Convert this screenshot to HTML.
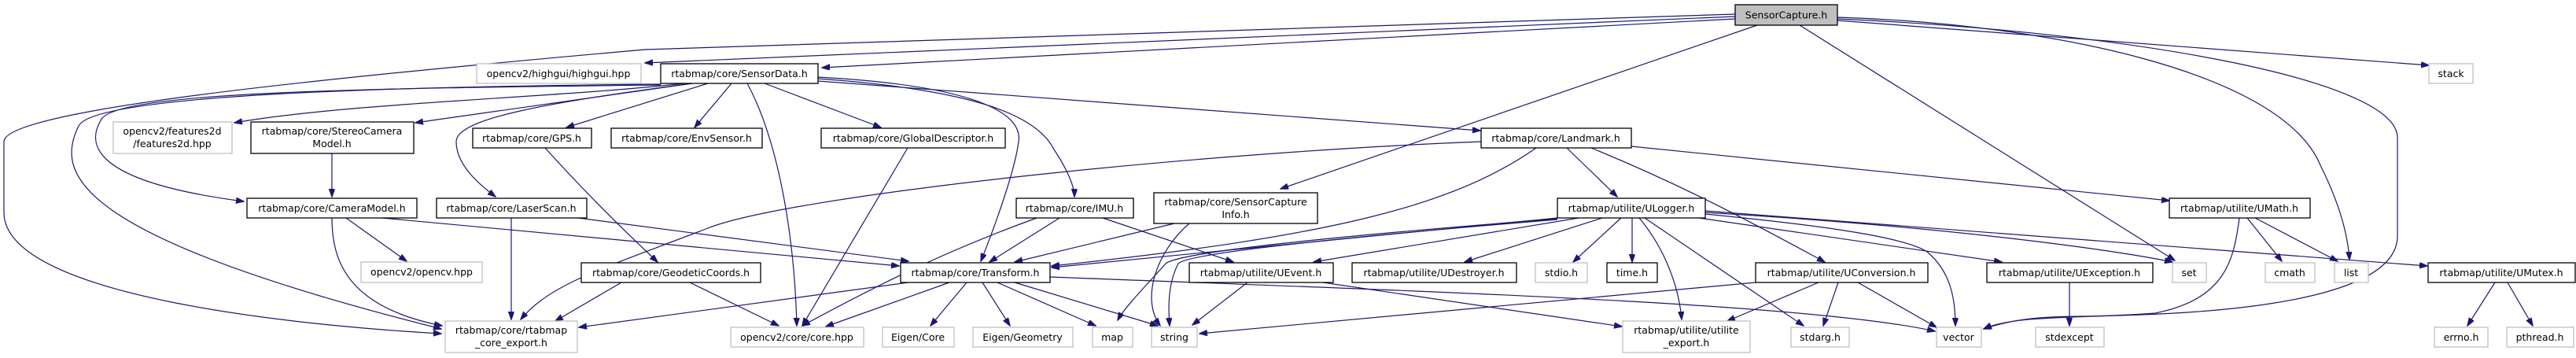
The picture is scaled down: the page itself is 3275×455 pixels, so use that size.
<!DOCTYPE html>
<html><head><meta charset="utf-8"><style>
html,body{margin:0;padding:0;background:#fff;}
svg{display:block;}
text{font-family:"DejaVu Sans","Liberation Sans",sans-serif;font-size:12.5px;fill:#000;}
.e{fill:none;stroke:#191970;stroke-width:1.2;marker-end:url(#a);}
.n{fill:#fff;stroke:#000;stroke-width:1.3;}
.x{fill:#fff;stroke:#bfbfbf;stroke-width:1.3;}
</style></head><body>
<svg width="3275" height="455" viewBox="0 0 3275 455" xmlns="http://www.w3.org/2000/svg">
<defs><marker id="a" markerUnits="userSpaceOnUse" markerWidth="11" markerHeight="8" refX="10" refY="3.7" orient="auto"><path d="M0,0 L10.5,3.7 L0,7.4 z" fill="#191970" stroke="#191970"/></marker></defs>
<g>
<path class="e" d="M2206,21 L820,80"/>
<path class="e" d="M2206,24 L1045,86"/>
<path class="e" d="M2206,18 L820,63 C400,100 5,140 5,180 L5,270 C5,380 400,415 561,424"/>
<path class="e" d="M2234,32 L1628,240"/>
<path class="e" d="M2288,32 L2765,331"/>
<path class="e" d="M2336,22 C2600,30 2900,90 2950,210 C2975,260 2985,300 2987,330"/>
<path class="e" d="M2336,24 C2700,40 3048,100 3048,175 L3048,300 C3048,395 2750,400 2650,402 C2600,402 2560,405 2522,418"/>
<path class="e" d="M2336,26 L3088,83"/>
<path class="e" d="M870,106 C700,125 450,130 298,156"/>
<path class="e" d="M880,106 L528,156"/>
<path class="e" d="M840,108 C500,112 160,115 130,150 C110,180 110,230 310,256"/>
<path class="e" d="M840,107 C500,110 120,120 100,160 C70,220 90,300 561,418"/>
<path class="e" d="M880,106 C700,130 580,150 580,180 C580,210 610,235 630,250"/>
<path class="e" d="M900,106 L720,162"/>
<path class="e" d="M930,106 L883,162"/>
<path class="e" d="M972,106 L1120,162"/>
<path class="e" d="M950,106 C990,180 1010,300 1013,414"/>
<path class="e" d="M1040,98 C1260,110 1300,150 1295,180 C1290,220 1260,300 1247,332"/>
<path class="e" d="M1040,100 C1250,115 1320,150 1340,190 C1360,220 1366,240 1366,250"/>
<path class="e" d="M1040,103 L1882,166"/>
<path class="e" d="M422,195 L422,250"/>
<path class="e" d="M422,277 C422,330 440,390 562,414"/>
<path class="e" d="M440,277 L517,332"/>
<path class="e" d="M486,277 L1143,338"/>
<path class="e" d="M650,277 L650,406"/>
<path class="e" d="M735,277 L1155,332"/>
<path class="e" d="M693,188 C740,240 790,290 836,333"/>
<path class="e" d="M790,359 L706,408"/>
<path class="e" d="M877,359 L990,414"/>
<path class="e" d="M1154,188 L1020,414"/>
<path class="e" d="M1318,277 C1200,320 1120,360 1020,414"/>
<path class="e" d="M1347,277 L1258,333"/>
<path class="e" d="M1402,277 L1568,333"/>
<path class="e" d="M1493,284 L1290,333"/>
<path class="e" d="M1512,284 C1470,320 1450,380 1475,414"/>
<path class="e" d="M1155,359 L736,416"/>
<path class="e" d="M1207,359 L1050,415"/>
<path class="e" d="M1229,359 L1183,414"/>
<path class="e" d="M1249,359 L1284,414"/>
<path class="e" d="M1268,359 L1393,414"/>
<path class="e" d="M1290,359 L1472,414"/>
<path class="e" d="M1335,352 C1800,370 2300,385 2460,421"/>
<path class="e" d="M1883,180 C1500,195 1000,250 900,290 C770,340 700,360 662,406"/>
<path class="e" d="M1953,188 C1850,260 1700,300 1337,338"/>
<path class="e" d="M1992,188 L2056,250"/>
<path class="e" d="M2023,188 C2150,240 2240,290 2320,333"/>
<path class="e" d="M2074,186 L2758,255"/>
<path class="e" d="M1980,277 L1337,340"/>
<path class="e" d="M2007,277 L1670,333"/>
<path class="e" d="M2037,277 L1862,333"/>
<path class="e" d="M2061,277 L2000,333"/>
<path class="e" d="M2075,277 L2075,333"/>
<path class="e" d="M2084,277 C2120,320 2135,370 2138,406"/>
<path class="e" d="M2091,277 L2293,414"/>
<path class="e" d="M1980,278 C1700,300 1500,320 1482,335 C1460,360 1430,390 1421,407"/>
<path class="e" d="M1980,279 C1700,302 1510,322 1498,335 C1485,360 1485,390 1487,414"/>
<path class="e" d="M2168,270 C2500,290 2700,320 2762,333"/>
<path class="e" d="M2168,272 C2300,285 2420,300 2450,320 C2480,345 2486,380 2486,414"/>
<path class="e" d="M2160,277 L2545,333"/>
<path class="e" d="M2168,268 L3086,338"/>
<path class="e" d="M1586,359 L1516,413"/>
<path class="e" d="M1682,359 L2062,415"/>
<path class="e" d="M2232,359 L1525,424"/>
<path class="e" d="M2312,359 L2196,408"/>
<path class="e" d="M2337,359 L2318,414"/>
<path class="e" d="M2362,359 L2462,416"/>
<path class="e" d="M2847,277 C2840,330 2830,380 2740,398 C2650,405 2560,400 2522,418"/>
<path class="e" d="M2857,277 L2901,332"/>
<path class="e" d="M2867,277 L2972,332"/>
<path class="e" d="M2631,359 L2631,414"/>
<path class="e" d="M3172,359 L3137,414"/>
<path class="e" d="M3188,359 L3220,414"/>
</g>
<g text-anchor="middle">
<rect x="2206" y="6" width="130" height="26" fill="#bfbfbf" stroke="#000" stroke-width="1.3"/><text x="2271" y="23.5">SensorCapture.h</text>
<rect class="x" x="606" y="81" width="209" height="25"/><text x="710" y="98">opencv2/highgui/highgui.hpp</text>
<rect class="n" x="840" y="81" width="200" height="25"/><text x="940" y="98">rtabmap/core/SensorData.h</text>
<rect class="x" x="3088" y="81" width="56" height="25"/><text x="3116" y="98">stack</text>
<rect class="x" x="144" y="155" width="151" height="40"/><text x="219" y="171">opencv2/features2d</text><text x="219" y="187">/features2d.hpp</text>
<rect class="n" x="319" y="155" width="207" height="40"/><text x="422" y="171">rtabmap/core/StereoCamera</text><text x="422" y="187">Model.h</text>
<rect class="n" x="601" y="163" width="151" height="25"/><text x="676" y="180">rtabmap/core/GPS.h</text>
<rect class="n" x="777" y="163" width="192" height="25"/><text x="873" y="180">rtabmap/core/EnvSensor.h</text>
<rect class="n" x="1044" y="163" width="234" height="25"/><text x="1161" y="180">rtabmap/core/GlobalDescriptor.h</text>
<rect class="n" x="1883" y="163" width="191" height="25"/><text x="1978" y="180">rtabmap/core/Landmark.h</text>
<rect class="n" x="1467" y="245" width="208" height="39"/><text x="1571" y="261">rtabmap/core/SensorCapture</text><text x="1571" y="277">Info.h</text>
<rect class="n" x="314" y="252" width="216" height="25"/><text x="422" y="269">rtabmap/core/CameraModel.h</text>
<rect class="n" x="555" y="252" width="191" height="25"/><text x="650" y="269">rtabmap/core/LaserScan.h</text>
<rect class="n" x="1292" y="252" width="149" height="25"/><text x="1366" y="269">rtabmap/core/IMU.h</text>
<rect class="n" x="1980" y="252" width="188" height="25"/><text x="2074" y="269">rtabmap/utilite/ULogger.h</text>
<rect class="n" x="2758" y="252" width="179" height="25"/><text x="2847" y="269">rtabmap/utilite/UMath.h</text>
<rect class="x" x="459" y="333" width="154" height="26"/><text x="536" y="350">opencv2/opencv.hpp</text>
<rect class="n" x="739" y="334" width="228" height="25"/><text x="853" y="351">rtabmap/core/GeodeticCoords.h</text>
<rect class="n" x="1145" y="334" width="190" height="25"/><text x="1240" y="351">rtabmap/core/Transform.h</text>
<rect class="n" x="1512" y="334" width="183" height="25"/><text x="1603" y="351">rtabmap/utilite/UEvent.h</text>
<rect class="n" x="1719" y="334" width="209" height="25"/><text x="1823" y="351">rtabmap/utilite/UDestroyer.h</text>
<rect class="x" x="1952" y="334" width="66" height="25"/><text x="1985" y="351">stdio.h</text>
<rect class="n" x="2043" y="334" width="64" height="25"/><text x="2075" y="351">time.h</text>
<rect class="n" x="2232" y="334" width="219" height="25"/><text x="2341" y="351">rtabmap/utilite/UConversion.h</text>
<rect class="n" x="2526" y="334" width="211" height="25"/><text x="2631" y="351">rtabmap/utilite/UException.h</text>
<rect class="x" x="2762" y="334" width="43" height="25"/><text x="2783" y="351">set</text>
<rect class="x" x="2880" y="334" width="63" height="25"/><text x="2911" y="351">cmath</text>
<rect class="x" x="2968" y="334" width="43" height="25"/><text x="2989" y="351">list</text>
<rect class="n" x="3087" y="334" width="187" height="25"/><text x="3180" y="351">rtabmap/utilite/UMutex.h</text>
<rect class="x" x="566" y="408" width="168" height="40"/><text x="650" y="424">rtabmap/core/rtabmap</text><text x="650" y="440">_core_export.h</text>
<rect class="x" x="929" y="416" width="169" height="25"/><text x="1013" y="433">opencv2/core/core.hpp</text>
<rect class="x" x="1122" y="416" width="91" height="25"/><text x="1167" y="433">Eigen/Core</text>
<rect class="x" x="1237" y="416" width="127" height="25"/><text x="1300" y="433">Eigen/Geometry</text>
<rect class="x" x="1389" y="416" width="51" height="25"/><text x="1414" y="433">map</text>
<rect class="x" x="1464" y="416" width="58" height="25"/><text x="1493" y="433">string</text>
<rect class="x" x="2063" y="408" width="162" height="40"/><text x="2144" y="424">rtabmap/utilite/utilite</text><text x="2144" y="440">_export.h</text>
<rect class="x" x="2277" y="416" width="74" height="25"/><text x="2314" y="433">stdarg.h</text>
<rect class="x" x="2462" y="416" width="57" height="25"/><text x="2490" y="433">vector</text>
<rect class="x" x="2588" y="416" width="87" height="25"/><text x="2631" y="433">stdexcept</text>
<rect class="x" x="3095" y="416" width="68" height="25"/><text x="3129" y="433">errno.h</text>
<rect class="x" x="3187" y="416" width="85" height="25"/><text x="3229" y="433">pthread.h</text>
</g>
</svg>
</body></html>
